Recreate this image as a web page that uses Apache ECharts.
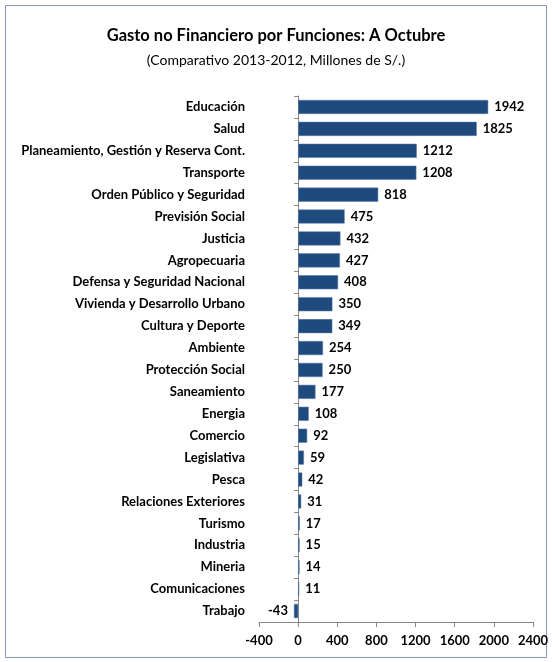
<!DOCTYPE html>
<html><head><meta charset="utf-8">
<script src="https://cdn.jsdelivr.net/npm/echarts@6/dist/echarts.min.js"></script>
<style>html,body{margin:0;padding:0;background:#fff}#c{width:552px;height:662px}</style>
</head><body><div id="c"></div>
<script>
var categories = ["Educación","Salud","Planeamiento, Gestión y Reserva Cont.","Transporte","Orden Público y Seguridad","Previsión Social","Justicia","Agropecuaria","Defensa y Seguridad Nacional","Vivienda y Desarrollo Urbano","Cultura y Deporte","Ambiente","Protección Social","Saneamiento","Energia","Comercio","Legislativa","Pesca","Relaciones Exteriores","Turismo","Industria","Mineria","Comunicaciones","Trabajo"];
var values = [1942,1825,1212,1208,818,475,432,427,408,350,349,254,250,177,108,92,59,42,31,17,15,14,11,-43];
var xTicks = [-400,0,400,800,1200,1600,2000,2400];

var FONT = 'Lato';
var chart = echarts.init(document.getElementById('c'));
chart.setOption({
  animation: false,
  title: {
    text: 'Gasto no Financiero por Funciones: A Octubre',
    subtext: '(Comparativo 2013-2012, Millones de S/.)',
    left: 'center', top: 22, itemGap: 9,
    textStyle: {fontFamily: FONT, fontSize: 16.5, fontWeight: 'bold', color: '#000'},
    subtextStyle: {fontFamily: FONT, fontSize: 14, color: '#000'}
  },
  graphic: [{type: 'rect', shape: {x: 5.5, y: 5.5, width: 541, height: 652}, style: {fill: 'none', stroke: '#8496B0', lineWidth: 1}, silent: true}],
  grid: {left: 259, right: 19, top: 96, bottom: 40, containLabel: false},
  xAxis: {
    type: 'value', min: xTicks[0], max: xTicks[xTicks.length-1], interval: 400,
    splitLine: {show: false},
    axisLine: {show: true, lineStyle: {color: '#868686'}},
    axisTick: {show: true, length: 5, lineStyle: {color: '#868686'}},
    axisLabel: {fontFamily: FONT, fontSize: 13, fontWeight: 'bold', color: '#000', margin: 12,
      formatter: function(v){ return String(v); }}
  },
  yAxis: {
    type: 'category', data: categories, inverse: true,
    axisLine: {show: true, onZero: true, lineStyle: {color: '#868686'}},
    axisTick: {show: true, length: 4, lineStyle: {color: '#868686'}},
    axisLabel: {fontFamily: FONT, fontSize: 13, fontWeight: 'bold', color: '#000', margin: 14}
  },
  series: [{
    type: 'bar', barCategoryGap: '36%',
    itemStyle: {color: '#1F4A7E', borderColor: '#5A7BA8', borderWidth: 0.5},
    label: {show: true, position: 'right', distance: 6, fontFamily: FONT, fontSize: 13, fontWeight: 'bold', color: '#000'},
    data: values.map(function(v){ return v < 0 ? {value: v, label: {position: 'left'}} : v; })
  }]
});
</script></body></html>
